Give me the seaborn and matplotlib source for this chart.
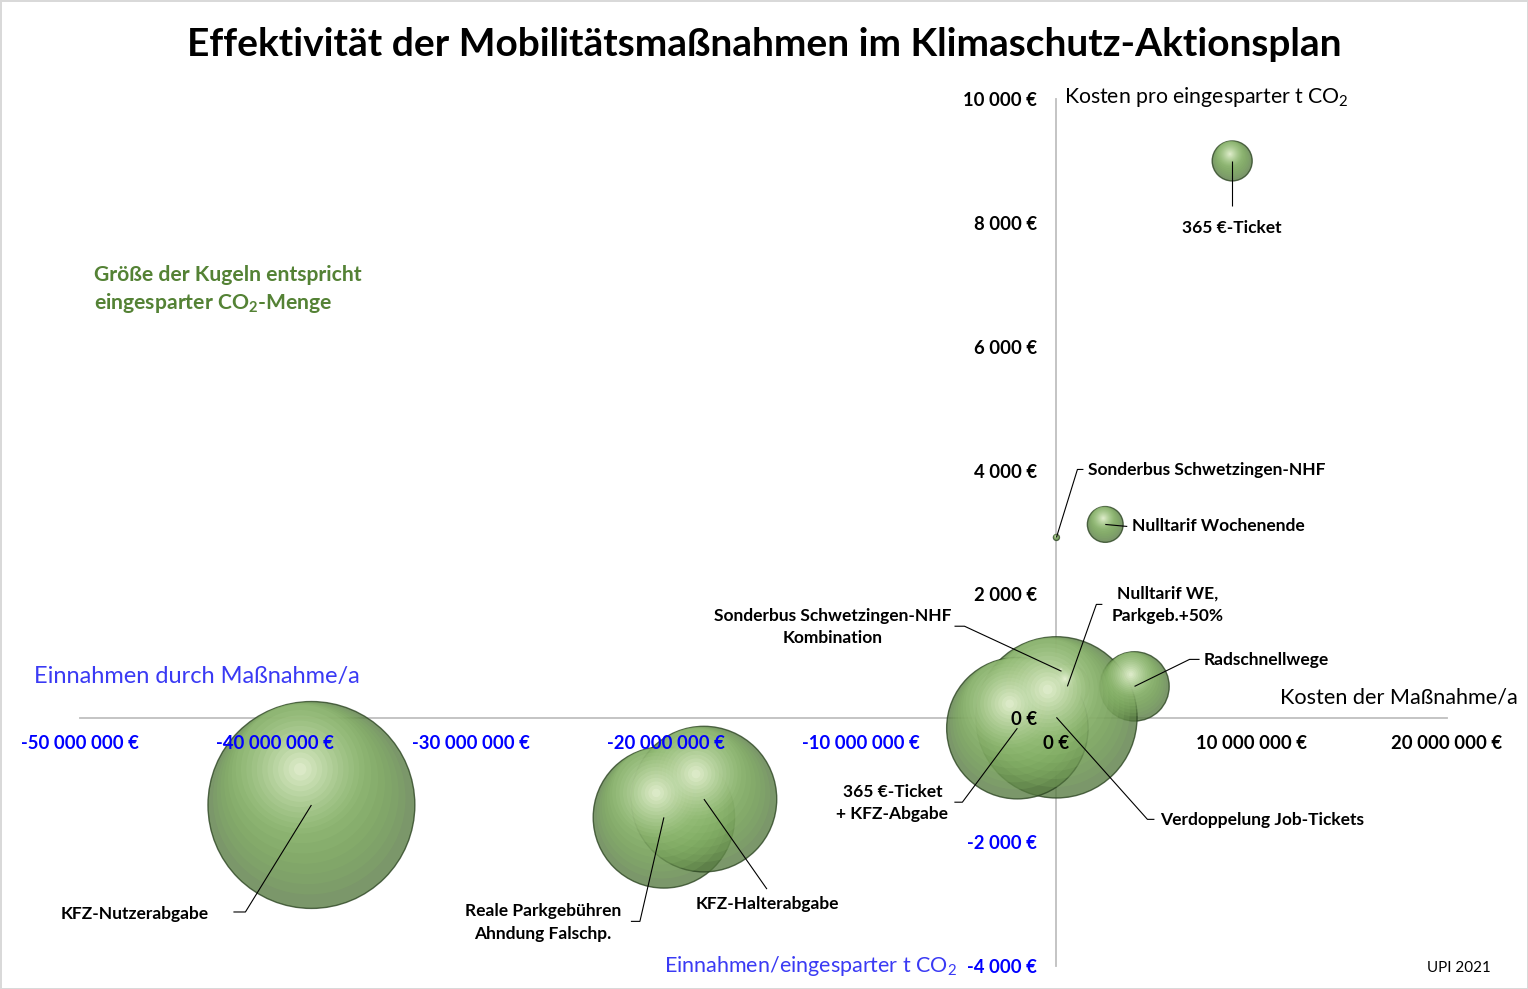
import numpy as np
import pandas as pd
import matplotlib
matplotlib.use("Agg")
import matplotlib.pyplot as plt
import seaborn as sns
from matplotlib.colors import to_rgb

# ---------------- data ----------------
massnahmen = ["365 €-Ticket", "Nulltarif Wochenende", "Sonderbus Schwetzingen-NHF",
              "Sonderbus Schwetzingen-NHF\nKombination", "Nulltarif WE,\nParkgeb.+50%",
              "Radschnellwege", "Verdoppelung Job-Tickets", "365 €-Ticket\n+ KFZ-Abgabe",
              "KFZ-Nutzerabgabe", "Reale Parkgebühren\nAhndung Falschp.", "KFZ-Halterabgabe"]
kosten_pro_jahr = [9.0e6, 2.5e6, 0.0, 0.26e6, 0.56e6, 4.0e6, 0.0, -2.0e6, -38.15e6, -20.1e6, -18.05e6]
kosten_pro_t = [9000, 3130, 2920, 760, 515, 515, 15, -160, -1400, -1600, -1305]
co2_eingespart = [4000, 3200, 90, 250, 4800, 12000, 65000, 50000, 107000, 50000, 53000]

x_ticks = [-50e6, -40e6, -30e6, -20e6, -10e6, 0, 10e6, 20e6]
y_ticks = [-4000, -2000, 0, 2000, 4000, 6000, 8000, 10000]

df = pd.DataFrame({"name": massnahmen, "x": kosten_pro_jahr, "y": kosten_pro_t, "co2": co2_eingespart})

# ---------------- style ----------------
sns.set_theme(style="white")
plt.rcParams["font.family"] = ["Lato", "DejaVu Sans"]
plt.rcParams["mathtext.fontset"] = "custom"
plt.rcParams["mathtext.rm"] = "Lato"
plt.rcParams["mathtext.it"] = "Lato:italic"
plt.rcParams["mathtext.bf"] = "Lato:bold"

W, H = 1528, 989
fig = plt.figure(figsize=(W / 100, H / 100), dpi=100, facecolor="white",
                 edgecolor="#D9D9D9", linewidth=2)
ax_l, ax_r, ax_t, ax_b = 80, 1447, 99, 966
ax = fig.add_axes([ax_l / W, (H - ax_b) / H, (ax_r - ax_l) / W, (ax_b - ax_t) / H])
ax.set_facecolor("none")
xmin, xmax = -50e6, 20e6
ymin, ymax = -4000, 10000
dpx_x = (xmax - xmin) / (ax_r - ax_l)   # data units per pixel
dpx_y = (ymax - ymin) / (ax_b - ax_t)

SIZE_PER_T = 0.20736  # marker area (pt^2) per t CO2
vmin, vmax = min(co2_eingespart), max(co2_eingespart)

# base bubbles
sns.scatterplot(data=df, x="x", y="y", size="co2", sizes=(vmin * SIZE_PER_T, vmax * SIZE_PER_T),
                size_norm=(vmin, vmax), color="#567A40", alpha=0.78, edgecolor="#2A4320",
                linewidth=1.0, legend=False, ax=ax, zorder=1.5)

# spherical shading layers (highlight towards upper left)
r_px = np.sqrt(df["co2"].values * SIZE_PER_T) / 2 / 0.72
c0 = np.array(to_rgb("#86B466"))
c1 = np.array(to_rgb("#FCFFEC"))
direction = np.array([-0.3, 0.954])
fracs = np.linspace(0.93, 0.06, 18)
for i, f in enumerate(fracs):
    t = (i / (len(fracs) - 1)) ** 1.4
    col = c0 + (c1 - c0) * t
    m = min(1 - f, 0.37) * 0.98
    lx = df["x"].values + m * direction[0] * r_px * dpx_x
    ly = df["y"].values + m * direction[1] * r_px * dpx_y
    ldf = pd.DataFrame({"x": lx, "y": ly, "co2": df["co2"].values})
    sns.scatterplot(data=ldf, x="x", y="y", size="co2",
                    sizes=(vmin * SIZE_PER_T * f * f, vmax * SIZE_PER_T * f * f),
                    size_norm=(vmin, vmax), color=col, alpha=0.22, edgecolor="none",
                    linewidth=0, legend=False, ax=ax, zorder=1.5)

ax.set_xlim(xmin, xmax)
ax.set_ylim(ymin, ymax)
ax.set_xlabel("")
ax.set_ylabel("")

for s in ["top", "right"]:
    ax.spines[s].set_visible(False)
ax.spines["left"].set_position(("data", 0))
ax.spines["bottom"].set_position(("data", 0))
for s in ["left", "bottom"]:
    ax.spines[s].set_color("#BFBFBF")
    ax.spines[s].set_linewidth(1.3)
    ax.spines[s].set_zorder(1)


def euro(v):
    return f"{int(v):,} €".replace(",", " ")


ax.set_xticks(x_ticks)
ax.set_xticklabels([euro(v) for v in x_ticks])
ax.set_yticks(y_ticks)
ax.set_yticklabels([euro(v) for v in y_ticks])
ax.tick_params(axis="x", length=0, pad=12, labelsize=13.3)
ax.tick_params(axis="y", length=0, pad=14, labelsize=13.3)
for lab, v in zip(ax.get_xticklabels(), x_ticks):
    lab.set_fontweight("bold")
    lab.set_color("#0000FF" if v < 0 else "black")
for lab, v in zip(ax.get_yticklabels(), y_ticks):
    lab.set_fontweight("bold")
    lab.set_color("#0000FF" if v < 0 else "black")
ax.xaxis.set_zorder(4)
ax.yaxis.set_zorder(4)

# ---------------- labels with leader lines (pixel offsets from bubble) ----------------
label_layout = [
    # text offset, ha, leader path (offsets from bubble centre)
    ((0, -67), "center", [(0, -45)]),
    ((27, -2), "left", [(22, -2)]),
    ((32, 67), "left", [(21, 68), (27, 68)]),
    ((-229, 44), "center", [(-97, 45), (-107, 45)]),
    ((100, 82), "center", [(29, 82), (35, 82)]),
    ((69, 26), "left", [(55, 27), (65, 27)]),
    ((104, -103), "left", [(91, -102), (98, -102)]),
    ((-125, -75), "center", [(-55, -74), (-63, -74)]),
    ((-177, -109), "center", [(-66, -107), (-78, -107)]),
    ((-121, -105), "center", [(-24, -104), (-33, -104)]),
    ((63, -105), "center", [(63, -90)]),
]
for (name, x, y), (toff, ha, path) in zip(zip(df["name"], df["x"], df["y"]), label_layout):
    pts = [(0, 0)] + path
    xs = [x + p[0] * dpx_x for p in pts]
    ys = [y + p[1] * dpx_y for p in pts]
    ax.plot(xs, ys, color="black", lw=0.8, zorder=5, solid_capstyle="butt")
    ax.annotate(name, xy=(x, y), xytext=toff, textcoords="offset pixels", ha=ha, va="center",
                multialignment="center", fontsize=12.5, fontweight="bold", color="black",
                linespacing=1.5, annotation_clip=False, zorder=6)

# ---------------- texts ----------------
def ft(x, y, s, **kw):
    fig.text(x / W, 1 - y / H, s, **kw)


ft(764, 44, "Effektivität der Mobilitätsmaßnahmen im Klimaschutz-Aktionsplan",
   ha="center", va="center", fontsize=28, fontweight="bold", color="black")
ft(1064, 97, "Kosten pro eingesparter t CO$_2$", ha="left", va="center", fontsize=15.3, color="black")
ft(1518, 697, "Kosten der Maßnahme/a", ha="right", va="center", fontsize=15.6, color="black")
ft(34, 676, "Einnahmen durch Maßnahme/a", ha="left", va="center", fontsize=17, color="#3A3AF4")
ft(957, 966, "Einnahmen/eingesparter t CO$_2$", ha="right", va="center", fontsize=15.5, color="#3A3AF4")
ft(94, 275, "Größe der Kugeln entspricht", ha="left", va="center", fontsize=15.2,
   fontweight="bold", color="#548235")
ft(94, 303, "eingesparter CO$_\\mathbf{2}$-Menge", ha="left", va="center", fontsize=15.2,
   fontweight="bold", color="#548235")
ft(1491, 968, "UPI 2021", ha="right", va="center", fontsize=10.9, color="black")

fig.savefig("out.png", dpi=100, facecolor=fig.get_facecolor(), edgecolor=fig.get_edgecolor())
